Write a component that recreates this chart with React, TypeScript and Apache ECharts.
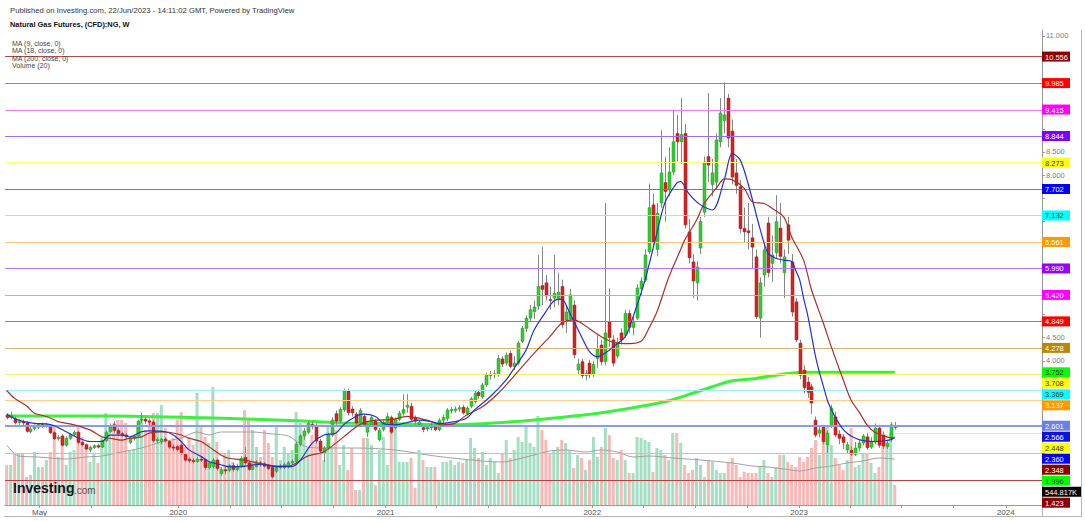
import React, { useEffect, useRef } from 'react';
import * as echarts from 'echarts';

// ---------- time frame ----------
const FIRST_WEEK = '2019-03-04';
const X_MIN = '2019-03-01';
const X_MAX = '2024-03-05';
const X_TICK_DATES = ['2019-05-01', '2019-08-01', '2020-01-01', '2020-04-01', '2020-07-01', '2020-10-01', '2021-01-01', '2021-04-01', '2021-07-01', '2021-10-01', '2022-01-01', '2022-04-01', '2022-07-01', '2022-10-01', '2023-01-01', '2023-04-01', '2023-07-01', '2023-10-01', '2024-01-01'];
const X_LABEL_DATES = ['2019-05-01', '2020-01-01', '2021-01-01', '2022-01-01', '2023-01-01', '2024-01-01'];
const X_LABEL_TEXTS = ['May', '2020', '2021', '2022', '2023', '2024'];
const PRICE_TICKS = [1.5, 2, 2.5, 3, 3.5, 4, 4.5, 5, 5.5, 6, 6.5, 7, 7.5, 8, 8.5, 9, 9.5, 10, 10.5, 11];

// ---------- weekly OHLC (one entry per week from FIRST_WEEK) ----------
const OPEN = [
  2.83, 2.78, 2.75, 2.67, 2.69, 2.66, 2.47, 2.54, 2.57, 2.63,
  2.60, 2.59, 2.45, 2.32, 2.38, 2.18, 2.33, 2.41, 2.46, 2.24,
  2.19, 2.08, 2.13, 2.17, 2.14, 2.28, 2.47, 2.62, 2.50, 2.43,
  2.40, 2.24, 2.33, 2.38, 2.72, 2.74, 2.70, 2.68, 2.28, 2.26,
  2.31, 2.26, 2.14, 2.15, 2.18, 1.98, 1.88, 1.85, 1.83, 1.88,
  1.87, 1.70, 1.72, 1.86, 1.57, 1.65, 1.64, 1.74, 1.66, 1.72,
  1.92, 1.80, 1.66, 1.72, 1.80, 1.78, 1.74, 1.70, 1.62, 1.70,
  1.70, 1.72, 1.80, 1.83, 2.20, 2.38, 2.46, 2.63, 2.60, 2.27,
  2.02, 2.12, 2.40, 2.86, 2.70, 2.94, 3.35, 2.96, 2.85, 2.66,
  2.80, 2.46, 2.62, 2.70, 2.30, 2.52, 2.66, 2.78, 2.56, 2.74,
  2.87, 3.00, 3.02, 2.77, 2.62, 2.56, 2.53, 2.56, 2.60, 2.52,
  2.72, 2.76, 2.93, 2.93, 2.96, 3.00, 2.86, 3.02, 3.12, 3.32,
  3.22, 3.48, 3.68, 3.70, 3.70, 4.04, 3.95, 4.16, 3.88, 3.95,
  4.42, 4.70, 4.92, 5.06, 5.18, 5.62, 5.68, 5.32, 5.35, 5.32,
  5.60, 4.88, 4.90, 5.20, 3.80, 3.98, 3.68, 3.95, 3.70, 4.05,
  4.34, 3.98, 4.84, 4.45, 4.10, 4.60, 4.55, 5.02, 4.72, 4.92,
  5.55, 5.74, 6.35, 7.36, 6.40, 7.40, 7.84, 7.68, 8.07, 8.90,
  8.72, 8.90, 6.78, 6.13, 5.68, 6.43, 7.20, 8.40, 7.80, 7.85,
  8.72, 9.18, 9.66, 8.95, 8.05, 7.75, 6.85, 6.80, 6.65, 6.24,
  4.92, 5.85, 6.97, 6.10, 6.33, 6.86, 5.90, 6.93, 6.13, 5.27,
  4.38, 3.80, 3.54, 3.44, 2.72, 2.44, 2.57, 2.19, 2.62, 2.79,
  2.42, 2.36, 2.08, 2.07, 1.98, 2.12, 2.23, 2.36, 2.14, 2.25,
  2.55, 2.40, 2.15, 2.30, 2.60,
];
const CLOSE = [
  2.78, 2.82, 2.67, 2.69, 2.66, 2.48, 2.53, 2.58, 2.63, 2.60,
  2.62, 2.45, 2.32, 2.35, 2.18, 2.33, 2.41, 2.46, 2.24, 2.19,
  2.10, 2.13, 2.17, 2.14, 2.28, 2.46, 2.60, 2.50, 2.43, 2.40,
  2.37, 2.33, 2.38, 2.70, 2.74, 2.70, 2.68, 2.28, 2.30, 2.31,
  2.28, 2.14, 2.12, 2.09, 2.00, 1.86, 1.85, 1.84, 1.88, 1.87,
  1.70, 1.80, 1.86, 1.68, 1.65, 1.63, 1.74, 1.66, 1.72, 1.90,
  1.80, 1.66, 1.72, 1.82, 1.77, 1.73, 1.68, 1.50, 1.70, 1.73,
  1.76, 1.80, 1.83, 2.20, 2.38, 2.48, 2.65, 2.60, 2.27, 2.05,
  2.12, 2.40, 2.72, 2.70, 2.95, 3.35, 2.88, 2.88, 2.66, 2.93,
  2.63, 2.62, 2.78, 2.52, 2.50, 2.68, 2.80, 2.46, 2.74, 2.87,
  2.95, 3.04, 2.74, 2.70, 2.68, 2.52, 2.58, 2.62, 2.52, 2.72,
  2.78, 2.94, 2.95, 2.96, 2.99, 2.88, 2.98, 3.18, 3.30, 3.25,
  3.48, 3.69, 3.70, 3.72, 4.05, 3.93, 4.12, 3.88, 3.95, 4.38,
  4.70, 4.92, 5.10, 5.16, 5.60, 5.54, 5.40, 5.30, 5.45, 5.48,
  4.78, 5.05, 5.42, 4.13, 3.93, 3.68, 3.73, 3.70, 3.92, 4.25,
  3.98, 4.60, 4.50, 3.95, 4.40, 4.45, 5.02, 4.72, 4.85, 5.57,
  5.72, 6.28, 7.30, 6.55, 7.18, 8.05, 7.65, 8.07, 8.72, 8.72,
  8.88, 6.93, 6.22, 5.72, 6.02, 7.00, 8.28, 8.22, 8.05, 8.76,
  9.34, 9.30, 8.80, 7.96, 7.78, 6.85, 6.78, 6.76, 6.45, 4.95,
  5.68, 6.39, 5.90, 6.28, 7.00, 6.25, 6.24, 6.60, 5.05, 4.45,
  3.69, 3.42, 3.32, 3.09, 2.40, 2.51, 2.26, 2.44, 2.98, 2.40,
  2.33, 2.24, 2.19, 1.99, 2.12, 2.23, 2.38, 2.13, 2.25, 2.55,
  2.18, 2.16, 2.22, 2.62, 2.566,
];
const LOW = [
  2.74, 2.74, 2.63, 2.62, 2.60, 2.45, 2.43, 2.50, 2.53, 2.55,
  2.56, 2.42, 2.29, 2.28, 2.15, 2.15, 2.30, 2.37, 2.20, 2.15,
  2.07, 2.03, 2.10, 2.11, 2.12, 2.25, 2.45, 2.45, 2.38, 2.35,
  2.32, 2.20, 2.28, 2.35, 2.65, 2.64, 2.60, 2.25, 2.22, 2.20,
  2.24, 2.10, 2.06, 2.05, 1.97, 1.83, 1.80, 1.79, 1.80, 1.82,
  1.65, 1.66, 1.68, 1.63, 1.52, 1.55, 1.60, 1.60, 1.62, 1.70,
  1.76, 1.63, 1.64, 1.70, 1.72, 1.70, 1.65, 1.46, 1.58, 1.66,
  1.66, 1.68, 1.76, 1.80, 2.15, 2.30, 2.42, 2.52, 2.22, 1.98,
  1.82, 2.08, 2.36, 2.62, 2.65, 2.90, 2.82, 2.80, 2.60, 2.60,
  2.58, 2.36, 2.58, 2.48, 2.26, 2.48, 2.62, 2.42, 2.52, 2.70,
  2.82, 2.88, 2.70, 2.62, 2.58, 2.46, 2.48, 2.50, 2.48, 2.48,
  2.64, 2.70, 2.86, 2.88, 2.90, 2.84, 2.82, 2.98, 3.08, 3.18,
  3.18, 3.44, 3.60, 3.62, 3.66, 3.86, 3.90, 3.84, 3.80, 3.90,
  4.38, 4.62, 4.85, 4.90, 5.10, 5.20, 5.30, 5.10, 5.15, 5.20,
  4.70, 4.60, 4.85, 4.05, 3.70, 3.62, 3.58, 3.62, 3.65, 3.85,
  3.90, 3.90, 4.30, 3.88, 4.05, 4.35, 4.50, 4.60, 4.55, 4.88,
  5.40, 5.70, 6.30, 6.45, 6.25, 7.30, 7.00, 7.55, 8.00, 8.30,
  8.25, 6.85, 6.10, 5.35, 5.30, 6.30, 7.10, 7.85, 7.55, 7.70,
  8.60, 8.90, 8.60, 7.80, 7.60, 6.75, 6.55, 6.40, 6.00, 4.90,
  4.50, 5.60, 5.80, 5.70, 6.20, 6.10, 5.35, 6.30, 4.95, 4.40,
  3.60, 3.30, 3.20, 2.85, 2.35, 2.35, 2.20, 2.00, 2.55, 2.35,
  2.20, 2.10, 2.00, 1.95, 1.95, 2.05, 2.18, 2.08, 2.10, 2.20,
  2.12, 2.10, 2.10, 2.25, 2.52,
];
const HIGH = [
  2.87, 2.90, 2.80, 2.74, 2.73, 2.70, 2.57, 2.63, 2.66, 2.67,
  2.66, 2.62, 2.48, 2.40, 2.42, 2.37, 2.45, 2.50, 2.48, 2.27,
  2.22, 2.17, 2.20, 2.21, 2.30, 2.50, 2.65, 2.70, 2.55, 2.47,
  2.45, 2.36, 2.42, 2.73, 2.88, 2.78, 2.75, 2.72, 2.35, 2.34,
  2.35, 2.29, 2.20, 2.18, 2.22, 2.01, 1.92, 1.90, 1.92, 1.93,
  1.90, 1.84, 1.90, 1.89, 1.70, 1.72, 1.78, 1.80, 1.78, 1.95,
  2.14, 1.84, 1.78, 1.86, 1.84, 1.82, 1.77, 1.72, 1.74, 1.78,
  1.80, 1.84, 1.88, 2.25, 2.42, 2.55, 2.70, 2.70, 2.65, 2.32,
  2.16, 2.45, 2.78, 2.93, 3.00, 3.40, 3.40, 3.02, 2.90, 2.98,
  2.85, 2.66, 2.82, 2.75, 2.55, 2.72, 2.88, 2.82, 2.78, 2.92,
  3.28, 3.28, 3.10, 2.82, 2.72, 2.62, 2.62, 2.66, 2.64, 2.76,
  2.84, 2.98, 3.00, 3.02, 3.04, 3.05, 3.02, 3.22, 3.35, 3.38,
  3.52, 3.74, 3.78, 3.80, 4.12, 4.10, 4.18, 4.22, 4.10, 4.42,
  4.75, 4.98, 5.20, 5.30, 6.28, 6.45, 5.85, 5.60, 6.28, 5.90,
  5.75, 5.20, 5.55, 5.30, 4.05, 4.05, 3.80, 4.02, 4.00, 4.55,
  4.45, 7.40, 5.56, 4.55, 4.50, 4.70, 5.10, 5.10, 4.95, 5.65,
  5.80, 6.40, 7.82, 7.60, 7.40, 8.97, 8.40, 8.60, 9.40, 9.30,
  9.66, 9.10, 7.05, 6.30, 6.15, 7.10, 8.40, 9.77, 8.35, 8.90,
  9.66, 10.00, 9.75, 9.20, 8.35, 7.90, 7.30, 7.40, 6.95, 6.40,
  5.80, 6.55, 7.10, 6.70, 7.57, 7.40, 6.40, 7.10, 6.30, 5.35,
  4.45, 3.90, 3.65, 3.50, 2.80, 2.60, 2.62, 2.50, 3.05, 2.90,
  2.50, 2.42, 2.25, 2.15, 2.25, 2.30, 2.42, 2.45, 2.35, 2.65,
  2.62, 2.48, 2.30, 2.68, 2.68,
];
// weekly volume, thousands
const VOLUME_K = [
  400, 400, 520, 520, 520, 280, 300, 530, 380, 380,
  450, 530, 780, 480, 680, 400, 530, 550, 780, 680,
  580, 430, 520, 420, 670, 920, 780, 820, 850, 850,
  820, 550, 550, 780, 880, 750, 850, 920, 920, 1000,
  770, 580, 670, 850, 930, 580, 680, 600, 1120, 800,
  680, 620, 1180, 630, 380, 520, 550, 430, 380, 450,
  950, 850, 750, 580, 480, 750, 620, 480, 780, 450,
  580, 520, 550, 930, 820, 750, 580, 700, 620, 520,
  450, 780, 580, 750, 400, 600, 350, 570, 150, 150,
  670, 670, 600, 200, 550, 680, 400, 770, 830, 430,
  430, 430, 470, 170, 550, 450, 380, 380, 380, 250,
  430, 430, 450, 400, 430, 420, 450, 670, 570, 470,
  530, 400, 470, 430, 320, 520, 650, 470, 550, 680,
  630, 800, 620, 580, 890, 750, 650, 520, 550, 580,
  650, 620, 550, 370, 500, 470, 350, 450, 680, 480,
  580, 770, 700, 470, 450, 550, 450, 320, 320, 680,
  670, 650, 630, 330, 570, 550, 500, 450, 720, 720,
  620, 400, 320, 350, 470, 400, 280, 450, 430, 350,
  320, 320, 420, 470, 400, 280, 330, 320, 320, 320,
  380, 450, 320, 280, 380, 500, 500, 430, 400, 380,
  480, 430, 480, 570, 650, 500, 680, 800, 600, 470,
  400, 350, 450, 770, 380, 400, 520, 520, 420, 320,
  380, 580, 630, 730, 200,
];

// ---------- indicator lines: [week index, value] ----------
const MA9 = [
  [0, 2.85], [3, 2.72], [7, 2.65], [10, 2.64], [12, 2.60], [15, 2.47], [18, 2.34], [21, 2.26], [24, 2.26], [26, 2.40],
  [29, 2.40], [31, 2.36], [34, 2.47], [36, 2.49], [40, 2.47], [42, 2.40], [44, 2.26], [46, 2.08], [49, 1.94], [51, 1.83],
  [54, 1.76], [56, 1.72], [59, 1.72], [64, 1.77], [68, 1.72], [72, 1.72], [74, 1.85], [77, 2.22], [80, 2.40], [83, 2.44],
  [85, 2.62], [88, 2.80], [90, 2.85], [93, 2.80], [95, 2.65], [98, 2.62], [102, 2.69], [104, 2.72], [107, 2.69], [109, 2.65],
  [113, 2.69], [116, 2.76], [118, 2.94], [122, 3.23], [126, 3.59], [128, 3.84], [131, 4.23], [133, 4.66], [136, 5.06], [138, 5.29],
  [140, 5.33], [142, 5.03], [145, 4.52], [147, 4.20], [149, 4.09], [151, 4.17], [153, 4.30], [156, 4.52], [158, 4.95], [161, 5.74],
  [164, 6.75], [166, 7.40], [169, 7.83], [170, 7.86], [172, 7.61], [175, 7.36], [178, 7.25], [181, 7.90], [183, 8.47], [185, 8.33],
  [187, 7.82], [190, 6.85], [192, 6.32], [194, 6.21], [196, 6.17], [198, 6.14], [199, 5.95], [200, 5.75], [201, 5.35], [202, 5.00],
  [203, 4.55], [204, 4.10], [205, 3.75], [206, 3.45], [207, 3.15], [208, 2.95], [209, 2.78], [210, 2.64], [211, 2.52], [212, 2.44],
  [213, 2.38], [215, 2.30], [217, 2.27], [219, 2.26], [221, 2.27], [223, 2.30], [224, 2.36],
];
const MA18 = [
  [0, 3.36], [2, 3.19], [5, 3.03], [7, 2.87], [10, 2.80], [13, 2.69], [17, 2.62], [21, 2.51], [24, 2.36], [26, 2.33],
  [29, 2.29], [31, 2.33], [34, 2.36], [36, 2.44], [39, 2.47], [41, 2.46], [44, 2.40], [46, 2.33], [49, 2.26], [51, 2.15],
  [54, 1.97], [56, 1.90], [60, 1.86], [63, 1.80], [65, 1.77], [68, 1.73], [71, 1.73], [76, 1.95], [80, 2.04], [85, 2.36],
  [89, 2.62], [93, 2.72], [97, 2.73], [101, 2.80], [106, 2.72], [110, 2.62], [113, 2.65], [116, 2.83], [120, 3.01], [124, 3.30],
  [129, 3.77], [133, 4.16], [137, 4.52], [140, 4.81], [143, 4.88], [145, 4.81], [150, 4.52], [154, 4.38], [157, 4.37], [160, 4.42],
  [162, 4.70], [164, 5.05], [167, 5.80], [170, 6.40], [171, 6.60], [174, 7.03], [176, 7.40], [179, 7.72], [181, 7.92], [183, 7.90],
  [186, 7.72], [188, 7.43], [191, 7.39], [193, 7.29], [196, 7.10], [198, 6.67], [201, 6.17], [203, 5.53], [206, 4.81], [208, 4.30],
  [211, 3.59], [213, 3.15], [215, 2.90], [217, 2.62], [219, 2.46], [222, 2.36], [224, 2.33],
];
const MA200 = [
  [0, 2.81], [25, 2.81], [50, 2.77], [75, 2.70], [85, 2.66], [100, 2.64], [112, 2.62], [125, 2.67], [135, 2.74], [150, 2.88],
  [160, 3.02], [167, 3.14], [173, 3.30], [178, 3.44], [182, 3.55], [189, 3.62], [194, 3.69], [199, 3.74], [202, 3.752], [224, 3.752],
];
const VOL_MA_K = [
  [0, 600], [3, 490], [8, 480], [15, 460], [20, 480], [24, 490], [29, 530], [34, 570], [39, 630], [44, 670],
  [48, 730], [51, 700], [54, 730], [56, 730], [62, 730], [67, 710], [71, 690], [75, 590], [79, 570], [84, 570],
  [88, 570], [98, 550], [108, 490], [120, 440], [125, 430], [130, 470], [133, 500], [137, 540], [141, 550], [146, 530],
  [150, 550], [154, 530], [158, 480], [162, 490], [168, 470], [175, 450], [183, 420], [188, 390], [192, 380], [196, 360],
  [200, 340], [204, 370], [208, 390], [212, 420], [216, 440], [220, 470], [224, 460],
];

// ---------- horizontal levels ----------
const LEVELS = [10.556, 9.985, 9.415, 8.844, 8.273, 7.702, 7.132, 6.561, 5.990, 5.420, 4.849, 4.278, 3.708, 3.369, 3.137, 2.601, 1.996, 1.423];
const LEVEL_COLORS = ['#b84848', '#ff5a5a', '#f07cf0', '#a06cf5', '#ffff70', '#6c6cff', '#8ef0f0', '#ffc67c', '#b976ff', '#ff80ff', '#e86060', '#d6b470', '#f4f07a', '#9cf0f0', '#ffcc8c', '#8a9bee', '#8ce88c', '#b84040'];
const PRICE_LINE = 2.448;

// right-edge value tags
const TAG_VALUES = [10.556, 9.985, 9.415, 8.844, 8.273, 7.702, 7.132, 6.561, 5.990, 5.420, 4.849, 4.278, 3.752, 3.708, 3.369, 3.137, 2.601, 2.566, 2.448, 2.360, 2.348, 1.996, 1.423];
const TAG_BG = ['#8b0000', '#ff0000', '#ff00ff', '#7f00ff', '#ffff00', '#0000ff', '#00ffff', '#ff9900', '#9900ff', '#ff00ff', '#ff0000', '#b8860b', '#00ff00', '#ffff00', '#00ffff', '#ff9900', '#6a80e6', '#1111dd', '#ffff00', '#0000ff', '#8b0000', '#00ff00', '#8b0000'];
const TAG_FG = ['#fff', '#fff', '#fff', '#fff', '#333', '#fff', '#333', '#fff', '#fff', '#fff', '#fff', '#fff', '#333', '#333', '#333', '#fff', '#fff', '#fff', '#333', '#fff', '#fff', '#333', '#fff'];
const VOL_TAG_TEXT = '544.817K';

const HEADER = 'Published on Investing.com, 22/Jun/2023 - 14:11:02 GMT, Powered by TradingView';
const TITLE = 'Natural Gas Futures, (CFD):NG, W';
const LEGEND = ['MA (9, close, 0)', 'MA (18, close, 0)', 'MA (200, close, 0)', 'Volume (20)'];

const FONT = 'Arial, "Liberation Sans", sans-serif';

export default function App() {
  const ref = useRef<HTMLDivElement>(null);

  useEffect(() => {
    const el = ref.current;
    if (!el) return;
    const chart = echarts.init(el, null, { renderer: 'svg' });
    const DAY = 86400000;
    const t0 = Date.parse(FIRST_WEEK);
    const weekTs = (i: number) => t0 + i * 7 * DAY;
    const xMin = Date.parse(X_MIN);
    const xMax = Date.parse(X_MAX);
    const labelTs = X_LABEL_DATES.map((d) => Date.parse(d));
    const lastIdx = CLOSE.length - 1;

    const candles = OPEN.map((o, i) => [weekTs(i), o, CLOSE[i], LOW[i], HIGH[i]]);
    const volume = VOLUME_K.map((v, i) => ({
      value: [weekTs(i), v],
      itemStyle: { color: CLOSE[i] >= OPEN[i] ? '#a3dfc3' : '#f7b8b8' },
    }));
    const pts = (arr: number[][]) => arr.map(([i, v]) => [weekTs(i), v]);

    const priceAxis = (labels: number[]) => ({
      type: 'value',
      position: 'right',
      min: 0.892,
      max: 11.129,
      splitLine: { show: false },
      axisLine: { show: true, lineStyle: { color: '#9a9a9a', width: 1 } },
      axisTick: { show: true, length: 3, lineStyle: { color: '#9a9a9a' }, customValues: PRICE_TICKS },
      axisLabel: {
        customValues: labels,
        fontSize: 7.5,
        color: '#808080',
        margin: 4,
        fontFamily: FONT,
        formatter: (v: number) => v.toFixed(3),
      },
    });

    const option: any = {
      animation: false,
      textStyle: { fontFamily: FONT },
      grid: { left: 5, right: 43, top: 30, bottom: 16 },
      xAxis: {
        type: 'value',
        min: xMin,
        max: xMax,
        splitLine: { show: false },
        axisLine: { show: true, lineStyle: { color: '#9a9a9a', width: 1 } },
        axisTick: { show: true, length: 3, lineStyle: { color: '#9a9a9a' }, customValues: X_TICK_DATES.map((d) => Date.parse(d)) },
        axisLabel: {
          customValues: labelTs,
          fontSize: 8,
          color: '#555',
          margin: 3,
          fontFamily: FONT,
          formatter: (v: number) => {
            let best = -1;
            labelTs.forEach((t, k) => { if (Math.abs(t - v) < DAY) best = k; });
            return best >= 0 ? X_LABEL_TEXTS[best] : '';
          },
        },
      },
      yAxis: [
        priceAxis(PRICE_TICKS),
        { type: 'value', min: 0, max: 4750, show: false, splitLine: { show: false } },
      ],
      series: [
        {
          name: 'Volume',
          type: 'bar',
          xAxisIndex: 0,
          yAxisIndex: 1,
          data: volume,
          barWidth: 3,
          silent: true,
          z: 1,
        },
        {
          name: 'Volume MA',
          type: 'line',
          yAxisIndex: 1,
          data: pts(VOL_MA_K),
          smooth: 0.3,
          symbol: 'none',
          silent: true,
          lineStyle: { color: '#a0a0a0', width: 1 },
          z: 2,
        },
        {
          name: 'MA 200',
          type: 'line',
          yAxisIndex: 0,
          data: pts(MA200),
          smooth: 0.3,
          symbol: 'none',
          silent: true,
          lineStyle: { color: '#3df03d', width: 3 },
          z: 3,
          markLine: {
            silent: true,
            symbol: ['none', 'none'],
            label: { show: false },
            animation: false,
            data: [
              ...LEVELS.map((v, k) => ({
                yAxis: v,
                lineStyle: { color: LEVEL_COLORS[k], width: v === 2.601 ? 2 : 1, type: 'solid', opacity: 1 },
              })),
              [
                { coord: [weekTs(lastIdx), PRICE_LINE], lineStyle: { color: '#f5f07a', width: 1, type: 'solid' } },
                { coord: [xMax, PRICE_LINE] },
              ],
            ],
          },
        },
        {
          name: 'NG',
          type: 'custom',
          yAxisIndex: 0,
          data: candles,
          encode: { x: 0, y: [1, 2, 3, 4] },
          silent: true,
          z: 4,
          renderItem: (params: any, api: any) => {
            const t = api.value(0);
            const o = api.value(1);
            const c = api.value(2);
            const l = api.value(3);
            const h = api.value(4);
            const pO = api.coord([t, o]);
            const pC = api.coord([t, c]);
            const pL = api.coord([t, l]);
            const pH = api.coord([t, h]);
            const cx = Math.round(pO[0]) + 0.5;
            const up = c >= o;
            const top = Math.min(pO[1], pC[1]);
            const hgt = Math.max(1, Math.abs(pO[1] - pC[1]));
            return {
              type: 'group',
              children: [
                { type: 'line', shape: { x1: cx, y1: pH[1], x2: cx, y2: pL[1] }, style: { stroke: '#858585', lineWidth: 1 } },
                {
                  type: 'rect',
                  shape: { x: cx - 1.5, y: top, width: 3, height: hgt },
                  style: { fill: up ? '#33cc33' : '#d92222', stroke: up ? '#1f9e1f' : '#a51515', lineWidth: 0.5 },
                },
              ],
            };
          },
        },
        {
          name: 'MA 18',
          type: 'line',
          yAxisIndex: 0,
          data: pts(MA18),
          smooth: 0.3,
          symbol: 'none',
          silent: true,
          lineStyle: { color: '#a8302a', width: 1.2 },
          z: 5,
        },
        {
          name: 'MA 9',
          type: 'line',
          yAxisIndex: 0,
          data: pts(MA9),
          smooth: 0.3,
          symbol: 'none',
          silent: true,
          lineStyle: { color: '#2233cc', width: 1.2 },
          z: 5,
        },
      ],
    };
    chart.setOption(option);

    // value tags on the price scale, stacked so they never overlap
    const axisX = chart.convertToPixel({ xAxisIndex: 0 }, xMax) as number;
    const tags: any[] = TAG_VALUES.map((v, k) => ({
      text: v.toFixed(3),
      bg: TAG_BG[k],
      fg: TAG_FG[k],
      w: 28,
      y: chart.convertToPixel({ yAxisIndex: 0 }, v) as number,
    }));
    tags.push({
      text: VOL_TAG_TEXT,
      bg: '#000',
      fg: '#fff',
      w: 39,
      y: chart.convertToPixel({ yAxisIndex: 1 }, VOL_MA_K[VOL_MA_K.length - 1][1]) as number,
    });
    tags.sort((a, b) => a.y - b.y);
    for (let k = 1; k < tags.length; k++) {
      if (tags[k].y < tags[k - 1].y + 11) tags[k].y = tags[k - 1].y + 11;
    }

    // price-scale numbers hidden behind a tag are left out
    const visibleTicks = PRICE_TICKS.filter((v) => {
      const y = chart.convertToPixel({ yAxisIndex: 0 }, v) as number;
      return tags.every((t) => Math.abs(t.y - y) >= 10);
    });

    const txt = (text: string, x: number, y: number, font: string, fill: string, z = 100) => ({
      type: 'text',
      x,
      y,
      z,
      silent: true,
      style: { text, font, fill, verticalAlign: 'middle', textVerticalAlign: 'middle', align: 'left', textAlign: 'left' },
    });

    const graphics: any[] = [
      txt(HEADER, 10, 10, `7.7px ${FONT}`, '#333'),
      txt(TITLE, 10, 24, `bold 7.4px ${FONT}`, '#111'),
      ...LEGEND.map((s, k) => txt(s, 12, 43 + k * 7.6, `7px ${FONT}`, '#444')),
      txt('Investing', 13, 488, `bold 14px ${FONT}`, '#151515'),
      txt('.com', 74, 490, `10px ${FONT}`, '#555'),
      { type: 'line', silent: true, z: 50, shape: { x1: 1081.5, y1: 30, x2: 1081.5, y2: 517 }, style: { stroke: '#b5b5b5', lineWidth: 1 } },
      { type: 'line', silent: true, z: 50, shape: { x1: 4, y1: 516.5, x2: 1082, y2: 516.5 }, style: { stroke: '#b5b5b5', lineWidth: 1 } },
      { type: 'line', silent: true, z: 50, shape: { x1: axisX + 0.5, y1: 505, x2: axisX + 0.5, y2: 517 }, style: { stroke: '#b5b5b5', lineWidth: 1 } },
    ];
    tags.forEach((t) => {
      graphics.push({
        type: 'rect',
        silent: true,
        z: 100,
        shape: { x: axisX, y: t.y - 5, width: t.w, height: 10 },
        style: { fill: t.bg },
      });
      graphics.push(txt(t.text, axisX + 3, t.y + 0.5, `7.5px ${FONT}`, t.fg, 101));
    });
    chart.setOption({ yAxis: [priceAxis(visibleTicks), {}], graphic: graphics });

    return () => chart.dispose();
  }, []);

  return <div ref={ref} style={{ position: 'absolute', left: 0, top: 0, width: 1085, height: 521 }} />;
}
